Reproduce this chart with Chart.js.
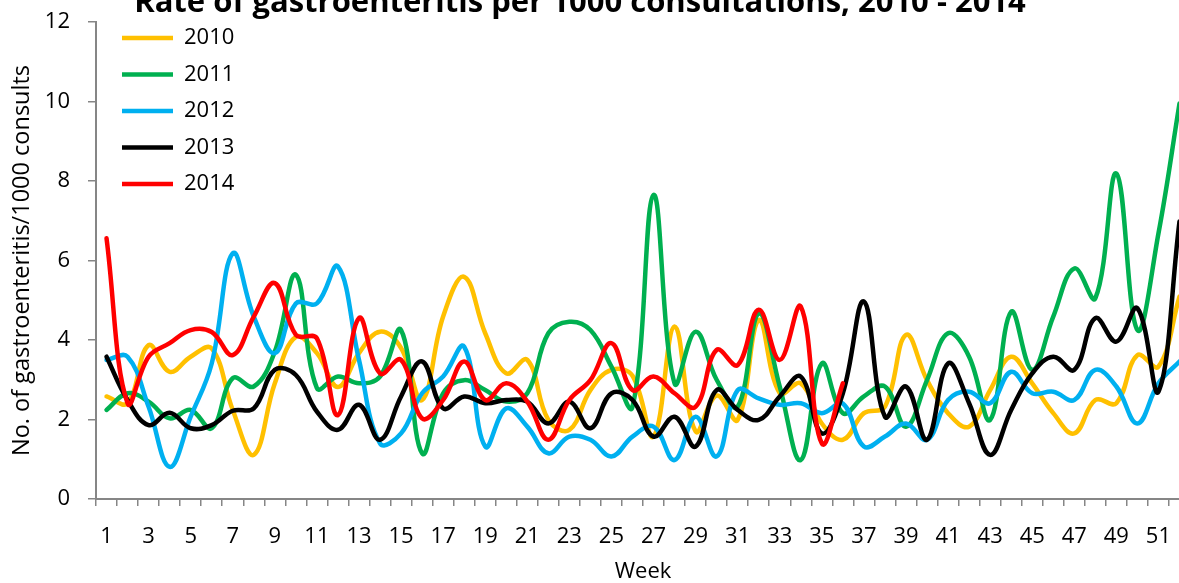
<!DOCTYPE html>
<html>
<head>
<meta charset="utf-8">
<script src="https://cdn.jsdelivr.net/npm/chart.js@4.4.0/dist/chart.umd.min.js"></script>
<style>
  html, body { margin: 0; padding: 0; background: #fff; overflow: hidden; }
  #wrap { position: absolute; left: 0; top: 0; width: 1190px; height: 583px; }
</style>
</head>
<body>
<div id="wrap"><canvas id="chart" width="1190" height="583"></canvas></div>
<script>
// weeks (categories)
const weeks = ['1','2','3','4','5','6','7','8','9','10','11','12','13','14','15','16','17','18','19','20',
  '21','22','23','24','25','26','27','28','29','30','31','32','33','34','35','36','37','38','39','40',
  '41','42','43','44','45','46','47','48','49','50','51','52'];

// rates per 1000 consults
const rate2010 = [2.58, 2.41, 3.87, 3.2, 3.58, 3.79, 2.24, 1.11, 2.91, 4.08,
  3.67, 2.82, 3.67, 4.21, 3.8, 2.49, 4.59, 5.59, 4.17, 3.16,
  3.5, 1.99, 1.74, 2.74, 3.25, 3.1, 1.57, 4.34, 1.7, 2.6,
  1.99, 4.5, 2.66, 2.91, 1.9, 1.49, 2.16, 2.32, 4.13, 2.99,
  2.16, 1.82, 2.74, 3.58, 2.91, 2.16, 1.65, 2.49, 2.41, 3.62,
  3.33, 5.09];
const rate2011 = [2.24, 2.66, 2.45, 2.03, 2.24, 1.78, 3.04, 2.83, 3.71, 5.64,
  2.79, 3.08, 2.91, 3.08, 4.25, 1.15, 2.66, 2.99, 2.74, 2.45,
  2.66, 4.17, 4.46, 4.25, 3.33, 2.32, 7.65, 2.91, 4.21, 3.0,
  2.32, 4.67, 2.83, 0.98, 3.41, 2.16, 2.58, 2.83, 1.82, 2.99,
  4.17, 3.58, 1.99, 4.71, 3.25, 4.59, 5.8, 5.05, 8.19, 4.25,
  6.68, 9.95];
const rate2012 = [3.5, 3.58, 2.32, 0.81, 2.07, 3.41, 6.18, 4.59, 3.67, 4.92,
  4.92, 5.85, 3.5, 1.4, 1.65, 2.66, 3.08, 3.83, 1.32, 2.28,
  1.82, 1.15, 1.57, 1.49, 1.07, 1.57, 1.82, 0.98, 2.07, 1.07,
  2.74, 2.53, 2.37, 2.41, 2.16, 2.4, 1.32, 1.57, 1.9, 1.49,
  2.49, 2.7, 2.41, 3.2, 2.66, 2.7, 2.49, 3.25, 2.83, 1.9,
  2.91, 3.46];
const rate2013 = [3.58, 2.49, 1.86, 2.17, 1.78, 1.86, 2.22, 2.28, 3.25, 3.12,
  2.2, 1.74, 2.37, 1.49, 2.58, 3.46, 2.28, 2.58, 2.41, 2.49,
  2.45, 1.9, 2.45, 1.78, 2.66, 2.49, 1.57, 2.07, 1.32, 2.74,
  2.24, 1.99, 2.58, 3.08, 1.65, 2.66, 4.97, 2.07, 2.83, 1.49,
  3.41, 2.41, 1.11, 2.24, 3.16, 3.58, 3.25, 4.55, 3.96, 4.8,
  2.7, 6.98];
const rate2014 = [6.56, 2.41, 3.58, 3.92, 4.25, 4.2, 3.62, 4.59, 5.43, 4.13,
  4.04, 2.11, 4.55, 3.16, 3.5, 2.03, 2.49, 3.46, 2.49, 2.91,
  2.45, 1.49, 2.49, 2.99, 3.92, 2.74, 3.08, 2.66, 2.32, 3.75,
  3.37, 4.76, 3.5, 4.84, 1.4, 2.91];

const years = ['2010', '2011', '2012', '2013', '2014'];
const colours = ['#FFC000', '#00B050', '#00B0F0', '#000000', '#FF0000'];
const series = [rate2010, rate2011, rate2012, rate2013, rate2014];

const chartTitle = 'Rate of gastroenteritis per 1000 consultations, 2010 - 2014';
const axisGrey = '#868686';
const font = { family: '"Open Sans", sans-serif', size: 22 };

// title sits half off the top edge, so draw it by hand
const topTitle = {
    id: 'topTitle',
    afterLayout(chart) {
        // legend goes into the top-left corner of the plot
        chart.legend.left = 107.5;
        chart.legend.top = 12.5;
    },
    afterDraw(chart) {
        const ctx = chart.ctx;
        ctx.save();
        ctx.font = 'bold 31px "Open Sans", sans-serif';
        ctx.fillStyle = '#000';
        ctx.textAlign = 'center';
        ctx.textBaseline = 'alphabetic';
        ctx.fillText(chartTitle, 580, 12);
        ctx.restore();
    }
};

new Chart(document.getElementById('chart'), {
    type: 'line',
    data: {
        labels: weeks,
        datasets: series.map((vals, i) => ({
            label: years[i],
            data: vals,
            borderColor: colours[i],
            backgroundColor: colours[i],
            borderWidth: 4.5,
            borderCapStyle: 'round',
            borderJoinStyle: 'round',
            pointRadius: 0,
            tension: 0.4,
            order: series.length - i
        }))
    },
    options: {
        responsive: false,
        devicePixelRatio: 1,
        animation: false,
        layout: { padding: { left: 0, right: 0, top: 22, bottom: 0 } },
        plugins: {
            title: { display: false },
            legend: {
                position: 'chartArea',
                align: 'start',
                labels: {
                    color: '#000',
                    font: font,
                    padding: 14.5,
                    usePointStyle: true,
                    pointStyle: 'line',
                    pointStyleWidth: 51,
                    sort: (a, b) => a.datasetIndex - b.datasetIndex
                }
            },
            tooltip: { enabled: false }
        },
        scales: {
            x: {
                offset: true,
                grid: { offset: true, drawOnChartArea: false, color: axisGrey, tickLength: 7, lineWidth: 1.5 },
                border: { color: axisGrey, width: 2 },
                ticks: {
                    color: '#000',
                    font: font,
                    autoSkip: false,
                    maxRotation: 0,
                    padding: 18,
                    callback: function (val, idx) { return idx % 2 === 0 ? this.getLabelForValue(val) : ''; }
                },
                title: { display: true, text: 'Week', color: '#000', font: font, padding: { top: 0, bottom: -2 } },
                afterFit(scale) {
                    scale.height = 84;
                    scale.paddingLeft = 0;
                    scale.paddingRight = 0;
                }
            },
            y: {
                min: 0,
                max: 12,
                grid: { drawOnChartArea: false, color: axisGrey, tickLength: 8, lineWidth: 1.5 },
                border: { color: axisGrey, width: 2 },
                ticks: { stepSize: 2, color: '#000', font: font, padding: 18 },
                title: {
                    display: true,
                    text: 'No. of gastroenteritis/1000 consults',
                    color: '#000',
                    font: { family: '"Open Sans", sans-serif', size: 23.5 },
                    padding: { top: 8, bottom: 0 }
                },
                afterFit(scale) {
                    scale.width = 96;
                    scale.paddingTop = 0;
                    scale.paddingBottom = 0;
                }
            }
        }
    },
    plugins: [topTitle]
});
</script>
</body>
</html>
